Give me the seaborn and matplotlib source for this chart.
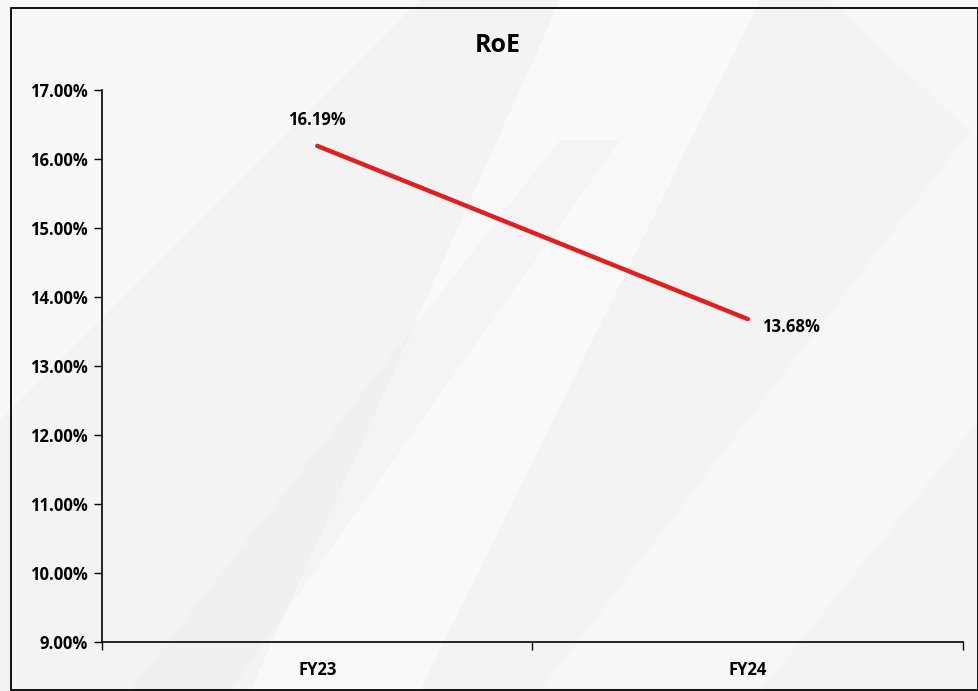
import numpy as np
import pandas as pd
import matplotlib
matplotlib.use("Agg")
import matplotlib.pyplot as plt
from matplotlib.patches import Polygon, Rectangle
from matplotlib.ticker import FuncFormatter, FixedLocator
import seaborn as sns

# data
years = ["FY23", "FY24"]
roe = [16.19, 13.68]
y_ticks = [9, 10, 11, 12, 13, 14, 15, 16, 17]

sns.set_theme(style="white")
plt.rcParams["font.family"] = ["Open Sans", "DejaVu Sans"]

W, H = 979, 691
fig = plt.figure(figsize=(W / 100, H / 100), dpi=100)
fig.patch.set_facecolor("#f3f3f3")

# background layer: subtle diagonal bands + outer border, in pixel coords
bg = fig.add_axes([0, 0, 1, 1], zorder=-10)
bg.set_xlim(0, W); bg.set_ylim(H, 0); bg.axis("off")

def band(pts, color, alpha):
    bg.add_patch(Polygon(pts, closed=True, facecolor=color, edgecolor="none", alpha=alpha))

band([(0, 0), (420, 0), (0, 420)], "white", 0.45)
band([(250, 691), (560, 0), (760, 0), (420, 691)], "white", 0.5)
band([(540, 691), (979, 120), (979, 420), (760, 691)], "white", 0.4)
band([(130, 691), (560, 140), (620, 140), (230, 691)], "#e6e6e6", 0.25)
band([(830, 0), (979, 0), (979, 140)], "white", 0.35)
bg.add_patch(Rectangle((11, 8), 978 - 11, 690 - 8, fill=False,
                       edgecolor="black", linewidth=1.3))

ax = fig.add_axes([102 / W, 1 - 642 / H, (963 - 102) / W, (642 - 90) / H], zorder=2)
ax.set_facecolor("none")

df = pd.DataFrame({"year": years, "roe": roe})
sns.lineplot(data=df, x="year", y="roe", color="#e0201e", linewidth=3.2, ax=ax,
             sort=False)

ax.set_xlim(-0.5, len(years) - 0.5)
ax.set_ylim(y_ticks[0], y_ticks[-1])
ax.set_yticks(y_ticks)
ax.yaxis.set_major_formatter(FuncFormatter(lambda v, _: f"{v:.2f}%"))

# category boundary ticks (Excel style) and centred labels
ax.xaxis.set_major_locator(FixedLocator(np.arange(-0.5, len(years), 1.0)))
ax.xaxis.set_major_formatter(FuncFormatter(lambda v, _: ""))
ax.xaxis.set_minor_locator(FixedLocator(np.arange(len(years))))
ax.set_xticklabels(years, minor=True)
ax.tick_params(axis="x", which="major", length=6, width=1, color="black", direction="out")
ax.tick_params(axis="x", which="minor", length=0, pad=14, labelsize=12)
ax.tick_params(axis="y", length=6, width=1, color="black", direction="out", pad=4, labelsize=12)
ax.tick_params(axis="both", bottom=True, left=True)
for lab in ax.get_xticklabels(minor=True) + ax.get_yticklabels():
    lab.set_fontweight("bold")
    lab.set_color("black")

for s in ["top", "right"]:
    ax.spines[s].set_visible(False)
for s in ["left", "bottom"]:
    ax.spines[s].set_color("black")
    ax.spines[s].set_linewidth(1.2)

ax.set_xlabel("")
ax.set_ylabel("")
fig.text(498 / W, 1 - 46 / H, "RoE", fontsize=18, fontweight="bold", color="black",
         ha="center", va="center")

ax.annotate(f"{roe[0]:.2f}%", (0, roe[0]), xytext=(0, 26), textcoords="offset pixels",
            ha="center", va="center", fontsize=12, fontweight="bold", color="black")
ax.annotate(f"{roe[1]:.2f}%", (1, roe[1]), xytext=(14, -8), textcoords="offset pixels",
            ha="left", va="center", fontsize=12, fontweight="bold", color="black")

fig.savefig("out.png", dpi=100, facecolor=fig.get_facecolor())
